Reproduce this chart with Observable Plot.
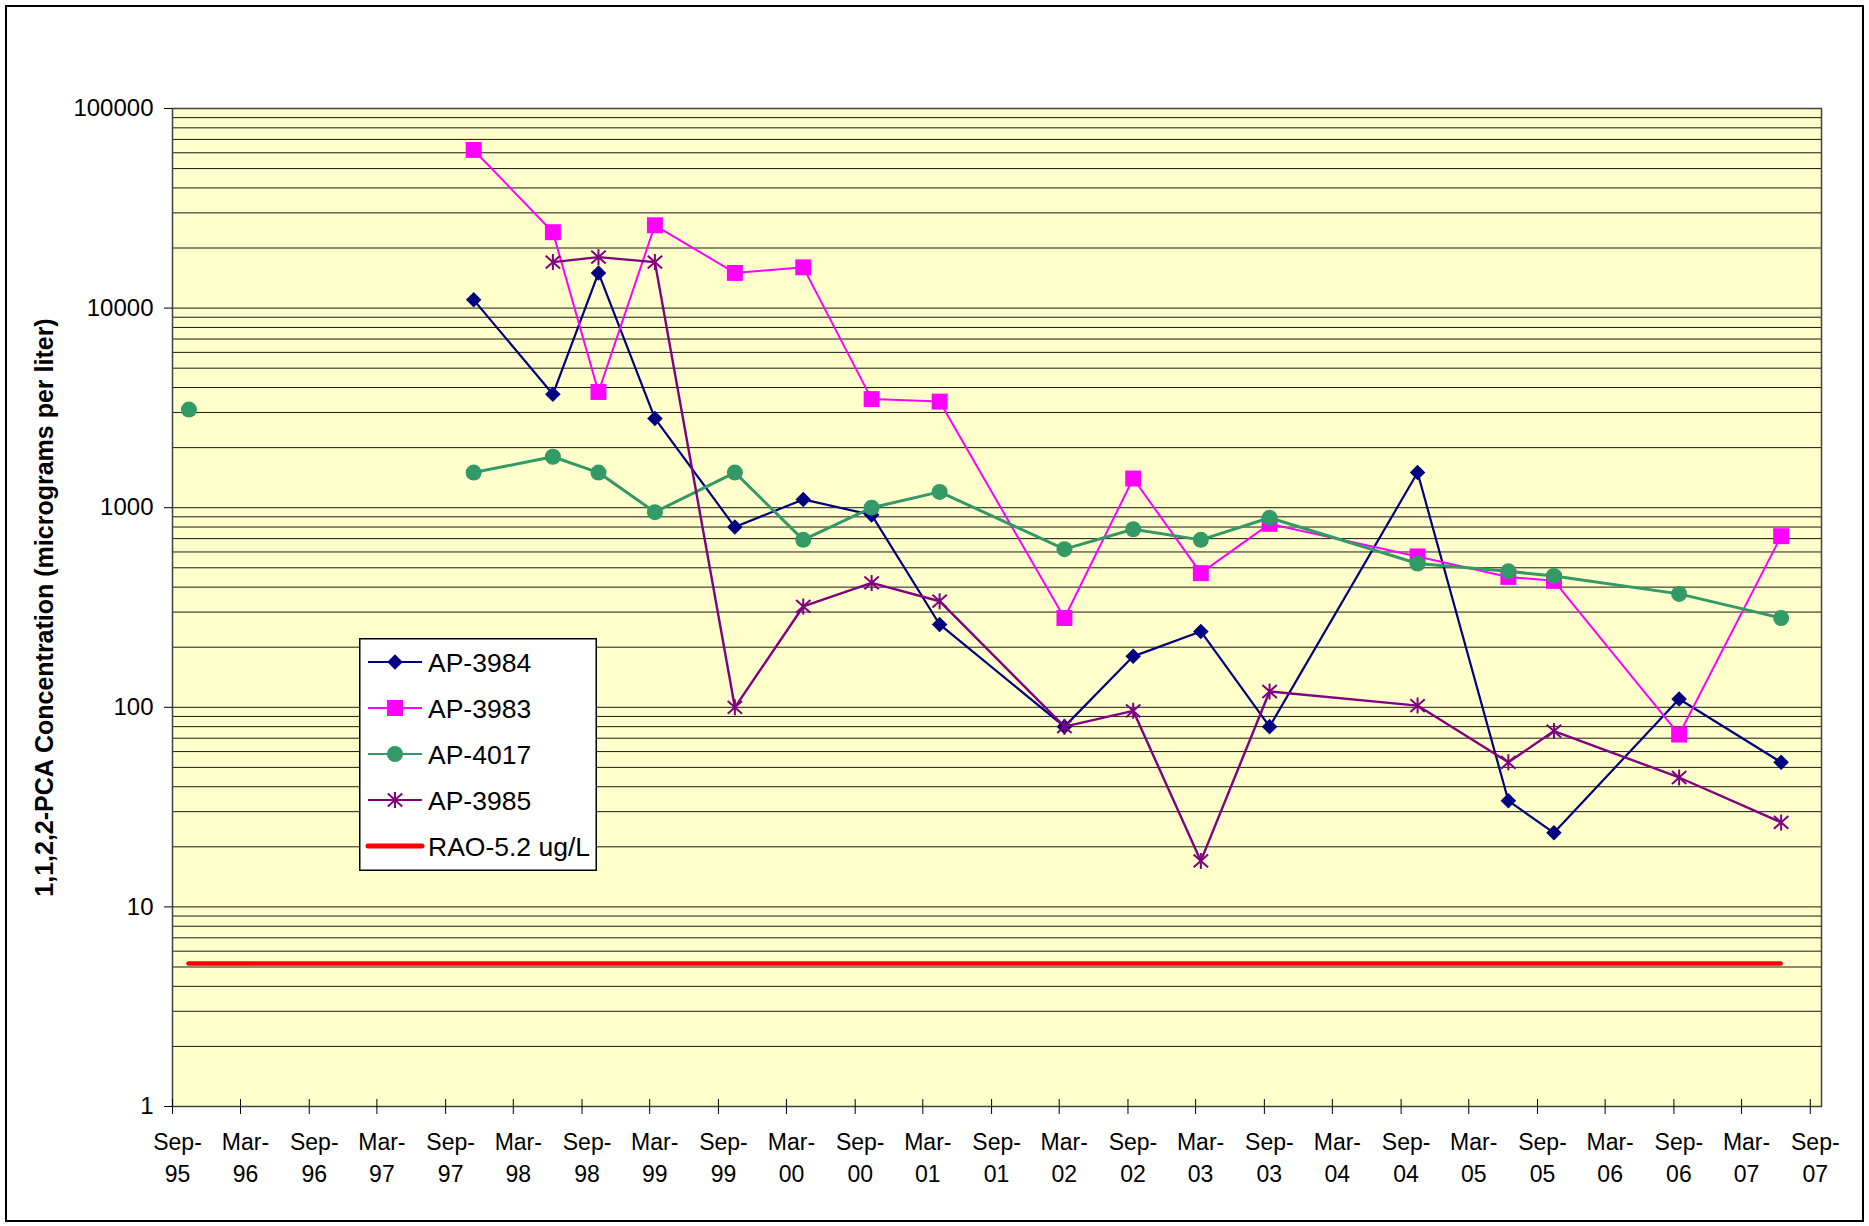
<!DOCTYPE html>
<html>
<head>
<meta charset="utf-8">
<script src="https://cdn.jsdelivr.net/npm/d3@7"></script>
<script src="https://cdn.jsdelivr.net/npm/@observablehq/plot@0.6"></script>
<style>
  html, body { margin: 0; padding: 0; background: #fff; }
  #wrap { position: relative; width: 1869px; height: 1226px; font-family: Arial, "Liberation Sans", sans-serif; }
  #border { position: absolute; left: 5px; top: 5px; width: 1855px; height: 1213px; border: 2px solid #000; pointer-events: none; }
  #legend { position: absolute; left: 359px; top: 638px; }
</style>
</head>
<body>
<div id="wrap">
  <div id="chart"></div>
  <div id="legend"></div>
  <div id="border"></div>
</div>
<script>
// ---------------- DATA ----------------
const sampleDates = [
  "1995-10-15", "1996-09-15", "1997-11-15", "1998-06-15", "1998-10-15", "1999-03-15",
  "1999-10-15", "2000-04-15", "2000-10-15", "2001-04-15", "2002-03-15", "2002-09-15",
  "2003-03-15", "2003-09-15", "2004-10-15", "2005-06-15", "2005-10-15", "2006-09-15",
  "2007-06-15"
];
const ap3984 = [null, null, 11000, 3700, 15000, 2800, 800, 1100, 920, 260, 80, 180, 240, 80, 1500, 34, 23.5, 110, 53];
const ap3983 = [null, null, 62000, 24000, 3800, 26000, 15000, 16000, 3500, 3400, 280, 1400, 470, 830, 570, 450, 430, 73, 720];
const ap4017 = [3100, null, 1500, 1800, 1500, 950, 1500, 690, 1000, 1200, 620, 780, 690, 890, 525, 480, 455, 370, 280];
const ap3985 = [null, null, null, 17000, 18000, 17000, 100, 320, 420, 340, 80, 96, 17, 120, 102, 53, 76, 44.5, 26.5];
const raoValue = 5.2;

const seriesNames = ["AP-3984", "AP-3983", "AP-4017", "AP-3985"];
const raoName = "RAO-5.2 ug/L";

const xTickDates = [
  "1995-09-01", "1996-03-01", "1996-09-01", "1997-03-01", "1997-09-01", "1998-03-01",
  "1998-09-01", "1999-03-01", "1999-09-01", "2000-03-01", "2000-09-01", "2001-03-01",
  "2001-09-01", "2002-03-01", "2002-09-01", "2003-03-01", "2003-09-01", "2004-03-01",
  "2004-09-01", "2005-03-01", "2005-09-01", "2006-03-01", "2006-09-01", "2007-03-01",
  "2007-09-01"
];
const xDomain = ["1995-09-01", "2007-10-01"];
const yTicks = [1, 10, 100, 1000, 10000, 100000];
const yTitle = "1,1,2,2-PCA Concentration (micrograms per liter)";

// Excel-style asterisk marker: vertical bar plus an X
const excelAsterisk = {
  draw(context, size) {
    const r = Math.sqrt(size / Math.PI);
    context.moveTo(0, -r); context.lineTo(0, r);
    context.moveTo(-0.9 * r, -0.8 * r); context.lineTo(0.9 * r, 0.8 * r);
    context.moveTo(-0.9 * r, 0.8 * r); context.lineTo(0.9 * r, -0.8 * r);
  }
};

// ---------------- STYLE ----------------
const styles = {
  "AP-3984": { color: "#000080", width: 2.2, symbol: d3.symbolDiamond2, r: 7, fill: "#000080", stroke: "none" },
  "AP-3983": { color: "#FF00FF", width: 2, symbol: d3.symbolSquare, r: 9, fill: "#FF00FF", stroke: "none" },
  "AP-4017": { color: "#339966", width: 3, symbol: d3.symbolCircle, r: 8, fill: "#339966", stroke: "none" },
  "AP-3985": { color: "#800080", width: 2.4, symbol: excelAsterisk, r: 8, fill: "none", stroke: "#800080" }
};

// ---------------- BUILD ----------------
const parse = d3.utcParse("%Y-%m-%d");
const dates = sampleDates.map(parse);
const valueArrays = [ap3984, ap3983, ap4017, ap3985];
const series = seriesNames.map((name, k) =>
  dates.map((date, i) => ({ name, date, value: valueArrays[k][i] }))
);
const allPoints = series.flat().filter(d => d.value != null);
const dateExtent = d3.extent(allPoints, d => d.date);
const xTicks = xTickDates.map(parse);

const minorGrid = [];
yTicks.slice(0, -1).forEach(t => { for (let m = 1; m < 10; m++) minorGrid.push(t * m); });
minorGrid.push(yTicks[yTicks.length - 1]);

const fmtX = d3.utcFormat("%b-\n%y");

const marks = [
  Plot.frame({ fill: "#FFFFCC", stroke: null }),
  Plot.gridY(minorGrid, { stroke: "#000", strokeOpacity: 0.9, strokeWidth: 1 }),
  Plot.frame({ stroke: "#404040", strokeWidth: 1.5 }),
  Plot.tickX(xTicks, { x: d => d, insetTop: 991, stroke: "#000", strokeWidth: 1 }),
  Plot.axisX({ ticks: xTicks, tickSize: 8, tickFormat: () => "", label: null }),
  Plot.axisX({ ticks: xTicks, tickSize: 0, tickPadding: 21, tickFormat: fmtX, fontSize: 23, lineHeight: 1.39, dx: 5, label: null }),
  Plot.axisY({ ticks: yTicks, tickSize: 8, tickPadding: 11, tickFormat: d => String(d), fontSize: 24, label: null }),
  Plot.text([yTitle], { text: d => d, frameAnchor: "left", textAnchor: "middle", lineAnchor: "middle", rotate: -90, dx: -128, fontSize: 25, fontWeight: "bold", fill: "#000" })
];

series.forEach(s => {
  const st = styles[s[0].name];
  marks.push(Plot.line(s, { x: "date", y: "value", stroke: st.color, strokeWidth: st.width }));
  marks.push(Plot.dot(s.filter(d => d.value != null), {
    x: "date", y: "value", symbol: () => st.symbol, r: st.r,
    fill: st.fill, stroke: st.stroke, strokeWidth: 2
  }));
});

marks.push(Plot.ruleY([raoValue], { x1: dateExtent[0], x2: dateExtent[1], stroke: "#FF0000", strokeWidth: 4.5, strokeLinecap: "round" }));

const chart = Plot.plot({
  width: 1869,
  height: 1226,
  marginLeft: 172,
  marginRight: 48,
  marginTop: 108,
  marginBottom: 120,
  x: { type: "utc", domain: xDomain.map(parse) },
  y: { type: "log", domain: [yTicks[0], yTicks[yTicks.length - 1]] },
  symbol: { type: "identity" },
  style: { fontFamily: "Arial, 'Liberation Sans', sans-serif", color: "#000", background: "transparent", overflow: "visible" },
  marks
});
document.getElementById("chart").appendChild(chart);

// ---------------- LEGEND ----------------
const lw = 238, lh = 233;
const lsvg = d3.select("#legend").append("svg").attr("width", lw).attr("height", lh)
  .style("font-family", "Arial, 'Liberation Sans', sans-serif");
lsvg.append("rect").attr("x", 0.75).attr("y", 0.75).attr("width", lw - 1.5).attr("height", lh - 1.5)
  .attr("fill", "#fff").attr("stroke", "#000").attr("stroke-width", 1.5);
const legendItems = seriesNames.concat([raoName]);
legendItems.forEach((name, i) => {
  const cy = 24 + i * 46;
  const g = lsvg.append("g");
  if (name === raoName) {
    g.append("line").attr("x1", 9).attr("x2", 63).attr("y1", cy).attr("y2", cy)
      .attr("stroke", "#FF0000").attr("stroke-width", 5).attr("stroke-linecap", "round");
  } else {
    const st = styles[name];
    g.append("line").attr("x1", 9).attr("x2", 63).attr("y1", cy).attr("y2", cy)
      .attr("stroke", st.color).attr("stroke-width", 2.2);
    g.append("path").attr("transform", `translate(36,${cy})`)
      .attr("d", d3.symbol(st.symbol, Math.PI * st.r * st.r)())
      .attr("fill", st.fill).attr("stroke", st.stroke).attr("stroke-width", 2);
  }
  g.append("text").attr("x", 69).attr("y", cy).attr("dy", "0.36em")
    .attr("font-size", 26.5).attr("fill", "#000").text(name);
});
</script>
</body>
</html>
